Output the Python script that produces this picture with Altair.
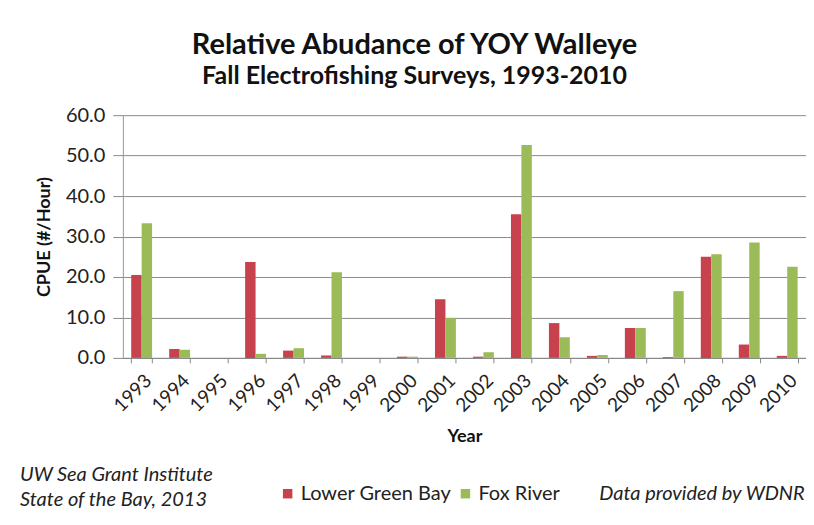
import altair as alt
import pandas as pd

years = [str(y) for y in range(1993, 2011)]
lower_green_bay = [20.5, 2.2, 0.0, 23.7, 1.8, 0.6, 0.0, 0.3, 14.5, 0.3, 35.5, 8.6, 0.5, 7.4, 0.2, 25.0, 3.3, 0.5]
fox_river = [33.3, 2.0, 0.0, 1.0, 2.4, 21.2, 0.0, 0.3, 9.9, 1.4, 52.6, 5.1, 0.7, 7.4, 16.5, 25.6, 28.5, 22.5]
series = ["Lower Green Bay", "Fox River"]
colors = ["#c8424d", "#9bbb59"]

rows = []
for i, y in enumerate(years):
    rows.append({"Year": y, "Site": series[0], "CPUE": lower_green_bay[i]})
    rows.append({"Year": y, "Site": series[1], "CPUE": fox_river[i]})
df = pd.DataFrame(rows)

FONT = "Lato"
W, H = 684, 243

bars = alt.Chart(df).mark_bar().encode(
    x=alt.X("Year:N", sort=years, title="Year",
            scale=alt.Scale(paddingInner=0.45, paddingOuter=0.22),
            axis=alt.Axis(labelAngle=-45, labelFontSize=19, labelColor="#222",
                          titleFontSize=18, titleFontWeight="bold", titleColor="#111",
                          titlePadding=12, tickBand="extent", tickSize=5,
                          tickColor="#888", domainColor="#888", labelPadding=8)),
    xOffset=alt.XOffset("Site:N", sort=series),
    y=alt.Y("CPUE:Q", title="CPUE (#/Hour)",
            scale=alt.Scale(domain=[0, 60]),
            axis=alt.Axis(values=[0, 10, 20, 30, 40, 50, 60], format=".1f",
                          labelFontSize=20, labelColor="#222", tickSize=10,
                          tickColor="#888", domainColor="#999", gridColor="#8a8a8a",
                          titleFontSize=18, titleFontWeight="bold", titleColor="#111",
                          titlePadding=12, labelPadding=8)),
    color=alt.Color("Site:N", sort=series,
                    scale=alt.Scale(domain=series, range=colors),
                    legend=alt.Legend(title=None, orient="none", direction="horizontal",
                                      legendX=155, legendY=369, symbolType="square",
                                      symbolSize=90, labelFontSize=20, labelColor="#222",
                                      columnPadding=4, labelOffset=3,
                                      symbolStrokeWidth=0)),
)

notes = pd.DataFrame({
    "t": ["UW Sea Grant Institute", "State of the Bay, 2013", "Data provided  by WDNR"],
    "px": [-103, -103, 477],
    "py": [360, 385, 379],
})
note_marks = alt.Chart(notes).mark_text(
    align="left", baseline="middle", fontSize=20, fontStyle="italic", font=FONT, color="#222"
).encode(x=alt.X("px:Q", scale=None), y=alt.Y("py:Q", scale=None), text="t:N")

chart = alt.layer(bars, note_marks).properties(
    width=W, height=H,
    autosize=alt.AutoSizeParams(type="none"),
    padding={"left": 115, "top": 107, "right": 0, "bottom": 159},
    title=alt.TitleParams(
        text="Relative Abudance of YOY Walleye",
        subtitle="Fall Electrofishing Surveys, 1993-2010",
        anchor="middle", dx=-50, offset=16,
        fontSize=29, fontWeight="bold", font=FONT, color="#111",
        subtitleFontSize=25, subtitleFontWeight="bold", subtitleFont=FONT,
        subtitleColor="#111", subtitlePadding=4),
).configure(font=FONT).configure_view(stroke=None).configure_axis(
    labelFont=FONT, titleFont=FONT
).configure_legend(labelFont=FONT)

chart.save("out.html", embed_options={"renderer": "svg", "actions": False})
